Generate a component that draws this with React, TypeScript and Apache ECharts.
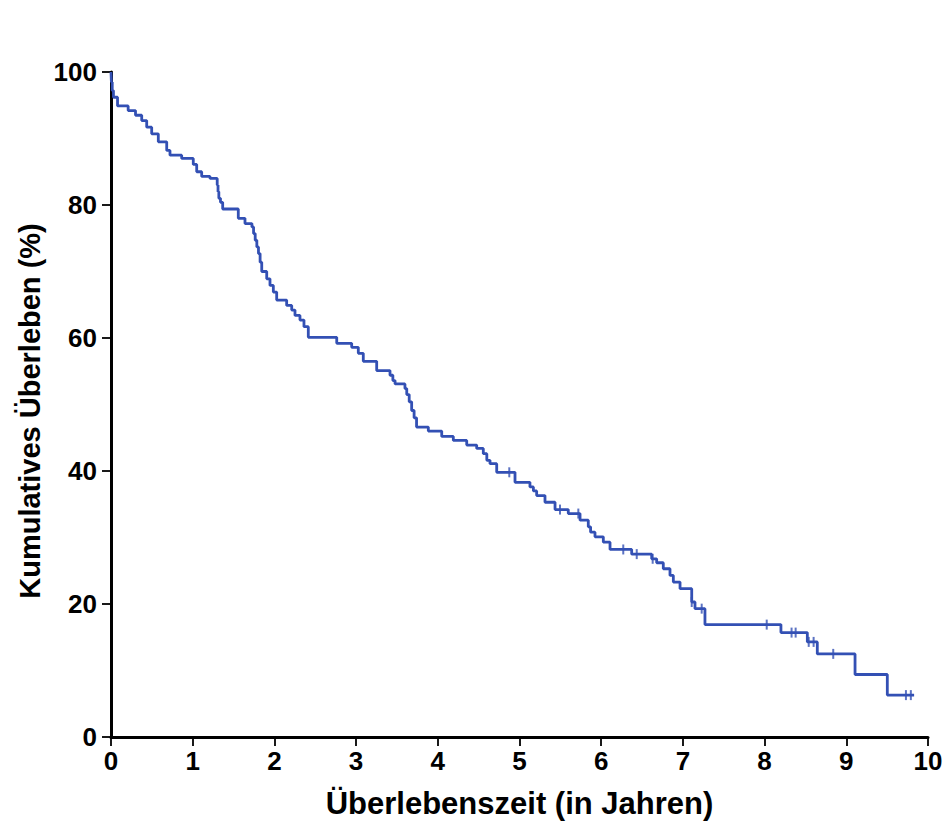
import React, { useEffect, useRef } from "react";
import * as echarts from "echarts";

// Kaplan-Meier event steps (time in years, survival in %)
const eventTimes = [
  0, 0.005, 0.015, 0.03, 0.08, 0.21, 0.3, 0.376, 0.437, 0.498, 0.579, 0.682, 0.722, 0.865,
  1.007, 1.049, 1.11, 1.212, 1.3, 1.31, 1.32, 1.34, 1.367, 1.558, 1.64, 1.725, 1.745, 1.765,
  1.785, 1.805, 1.825, 1.845, 1.906, 1.946, 1.987, 2.028, 2.15, 2.212, 2.252, 2.313, 2.362,
  2.415, 2.763, 2.946, 3.027, 3.088, 3.252, 3.415, 3.45, 3.477, 3.598, 3.62, 3.65, 3.68, 3.71,
  3.74, 3.884, 4.048, 4.19, 4.354, 4.476, 4.557, 4.6, 4.639, 4.721, 4.945, 5.128, 5.17, 5.21,
  5.312, 5.435, 5.597, 5.741, 5.842, 5.87, 5.924, 6.026, 6.108, 6.373, 6.618, 6.679, 6.76,
  6.842, 6.883, 6.965, 7.108, 7.148, 7.27, 8.2, 8.523, 8.645, 9.107, 9.502, 9.83,
];
const survival = [
  100, 98.5, 97.2, 96.2, 94.9, 94.2, 93.5, 92.7, 91.7, 90.7, 89.5, 88.2, 87.5, 87.0,
  86.1, 85.0, 84.3, 84.0, 83.0, 82.0, 81.0, 80.4, 79.4, 78.0, 77.2, 76.7, 75.7, 74.7,
  73.7, 72.7, 71.4, 70.0, 68.9, 67.9, 66.9, 65.7, 64.9, 64.2, 63.4, 62.7, 61.7,
  60.1, 59.2, 58.6, 57.7, 56.5, 55.1, 54.4, 53.6, 53.1, 52.4, 51.5, 50.4, 49.1, 48.0,
  46.6, 46.0, 45.2, 44.6, 43.9, 43.4, 42.6, 41.6, 41.1, 39.8, 38.3, 37.6, 37.0, 36.3,
  35.3, 34.2, 33.6, 32.6, 31.6, 30.8, 30.1, 29.3, 28.2, 27.5, 26.8, 26.2, 25.3,
  24.3, 23.3, 22.3, 20.3, 19.3, 16.9, 15.7, 14.3, 12.5, 9.4, 6.3, 6.3,
];

// Censored observations
const censorTimes = [4.875, 5.496, 5.72, 6.27, 6.435, 6.63, 7.108, 7.23, 8.026, 8.33, 8.38, 8.54, 8.6, 8.84, 9.73, 9.79];
const censorValues = [39.8, 34.2, 33.6, 28.2, 27.5, 26.8, 20.3, 19.3, 16.9, 15.7, 15.7, 14.3, 14.3, 12.5, 6.3, 6.3];

const xTicks = [0, 1, 2, 3, 4, 5, 6, 7, 8, 9, 10];
const yTicks = [0, 20, 40, 60, 80, 100];

const xTitle = "Überlebenszeit (in Jahren)";
const yTitle = "Kumulatives Überleben (%)";

const LINE_COLOR = "#3350b4";
const FONT = "'Liberation Sans', Arial, sans-serif";

export default function App() {
  const ref = useRef<HTMLDivElement>(null);

  useEffect(() => {
    document.body.style.margin = "0";
    if (!ref.current) return;
    const chart = echarts.init(ref.current, null, { renderer: "svg" });

    const lineData = eventTimes.map((t, i) => [t, survival[i]]);
    const censorData = censorTimes.map((t, i) => [t, censorValues[i]]);

    const axisCommon = {
      axisLine: { show: true, onZero: false, lineStyle: { color: "#000", width: 3 } },
      axisTick: { show: true, inside: false, length: 9, lineStyle: { color: "#000", width: 1.8 } },
      splitLine: { show: false },
      axisLabel: {
        color: "#000",
        fontSize: 26,
        fontWeight: "bold" as const,
        fontFamily: FONT,
      },
      nameTextStyle: {
        color: "#000",
        fontSize: 31,
        fontWeight: "bold" as const,
        fontFamily: FONT,
      },
    };

    chart.setOption({
      animation: false,
      backgroundColor: "#fff",
      grid: { left: 111, right: 21, top: 72, bottom: 90, containLabel: false },
      graphic: [
        {
          type: "text",
          x: 30,
          y: 411,
          rotation: Math.PI / 2,
          style: {
            text: yTitle,
            fill: "#000",
            font: `bold 29px ${FONT}`,
            textAlign: "center",
            textVerticalAlign: "middle",
          },
        },
      ],
      xAxis: {
        type: "value",
        min: xTicks[0],
        max: xTicks[xTicks.length - 1],
        interval: 1,
        name: xTitle,
        nameLocation: "middle",
        nameGap: 51,
        ...axisCommon,
        axisLabel: { ...axisCommon.axisLabel, margin: 11 },
      },
      yAxis: {
        type: "value",
        min: yTicks[0],
        max: yTicks[yTicks.length - 1],
        interval: 20,
        ...axisCommon,
        axisLabel: { ...axisCommon.axisLabel, margin: 14 },
      },
      series: [
        {
          type: "line",
          step: "end",
          data: lineData,
          showSymbol: false,
          symbol: "none",
          lineStyle: { color: LINE_COLOR, width: 2.8 },
          z: 3,
        },
        {
          type: "scatter",
          data: censorData,
          symbol: "rect",
          symbolSize: [2, 10],
          itemStyle: { color: LINE_COLOR },
          z: 4,
        },
      ],
    });

    return () => chart.dispose();
  }, []);

  return <div ref={ref} style={{ width: 949, height: 827 }} />;
}
